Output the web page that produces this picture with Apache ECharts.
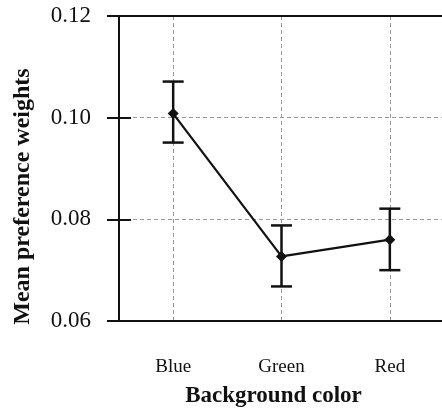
<!DOCTYPE html>
<html>
<head>
<meta charset="utf-8">
<script src="https://cdn.jsdelivr.net/npm/echarts@6/dist/echarts.min.js"></script>
<style>
  html, body { margin: 0; padding: 0; background: #fff; }
  #chart { width: 442px; height: 415px; }
</style>
</head>
<body>
<div id="chart"></div>
<script>
let categories = ['Blue', 'Green', 'Red']
let means = [0.1008, 0.0727, 0.0760]
let lower = [0.0951, 0.0668, 0.0700]
let upper = [0.1071, 0.0788, 0.0821]

let serif = '"Liberation Serif", "DejaVu Serif", serif'
let ink = '#111'

let chartDom = document.getElementById('chart')
let chart = echarts.init(chartDom)

let errData = categories.map((c, i) => [i, lower[i], upper[i]])

let option = {
  animation: false,
  grid: { left: 119, top: 16, width: 325, bottom: 94, containLabel: false, outerBoundsMode: 'none' },
  xAxis: [
    {
      type: 'category',
      data: categories,
      boundaryGap: true,
      position: 'bottom',
      name: 'Background color',
      nameLocation: 'middle',
      nameGap: 64,
      nameTextStyle: { fontFamily: serif, fontSize: 23, fontWeight: 'bold', color: ink, padding: [0, 16, 0, 0] },
      axisLine: { lineStyle: { color: ink, width: 2 } },
      axisTick: { alignWithLabel: true, length: 12, lineStyle: { color: ink, width: 2 } },
      axisLabel: { fontFamily: serif, fontSize: 19, color: ink, margin: 37 },
      splitLine: { show: true, alignWithLabel: true, lineStyle: { color: '#999', type: [4, 3], width: 1 } }
    },
    {
      // inner half of the crossing ticks
      type: 'category',
      data: categories,
      position: 'bottom',
      axisLine: { show: false },
      axisTick: { alignWithLabel: true, inside: true, length: 12, lineStyle: { color: ink, width: 2 } },
      axisLabel: { show: false },
      splitLine: { show: false }
    },
    {
      // top frame line
      type: 'category',
      data: categories,
      position: 'top',
      axisLine: { lineStyle: { color: ink, width: 2 } },
      axisTick: { show: false },
      axisLabel: { show: false },
      splitLine: { show: false }
    }
  ],
  yAxis: [
    {
      type: 'value',
      min: 0.06,
      max: 0.12,
      interval: 0.02,
      name: 'Mean preference weights',
      nameLocation: 'middle',
      nameGap: 84,
      nameTextStyle: { fontFamily: serif, fontSize: 24, fontWeight: 'bold', color: ink, padding: [0, 56, 0, 0] },
      axisLine: { show: true, lineStyle: { color: ink, width: 2 } },
      axisTick: { show: true, length: 12, lineStyle: { color: ink, width: 2 } },
      axisLabel: { fontFamily: serif, fontSize: 23, color: ink, margin: 28, formatter: v => v.toFixed(2) },
      splitLine: { show: true, lineStyle: { color: '#999', type: [4, 3], width: 1 } }
    },
    {
      // inner half of the crossing ticks
      type: 'value',
      min: 0.06,
      max: 0.12,
      interval: 0.02,
      position: 'left',
      axisLine: { show: false },
      axisTick: { show: true, inside: true, length: 12, lineStyle: { color: ink, width: 2 } },
      axisLabel: { show: false },
      splitLine: { show: false }
    }
  ],
  series: [
    {
      type: 'line',
      data: means,
      symbol: 'diamond',
      symbolSize: 11,
      lineStyle: { color: ink, width: 2.2 },
      itemStyle: { color: ink },
      z: 5
    },
    {
      type: 'custom',
      data: errData,
      z: 4,
      renderItem(params, api) {
        let x = api.value(0)
        let lo = api.coord([x, api.value(1)])
        let hi = api.coord([x, api.value(2)])
        let half = 10.5
        let style = { stroke: ink, lineWidth: 2.5 }
        return {
          type: 'group',
          children: [
            { type: 'line', shape: { x1: lo[0], y1: lo[1], x2: hi[0], y2: hi[1] }, style },
            { type: 'line', shape: { x1: lo[0] - half, y1: lo[1], x2: lo[0] + half, y2: lo[1] }, style },
            { type: 'line', shape: { x1: hi[0] - half, y1: hi[1], x2: hi[0] + half, y2: hi[1] }, style }
          ]
        }
      }
    }
  ]
}

chart.setOption(option)
</script>
</body>
</html>
